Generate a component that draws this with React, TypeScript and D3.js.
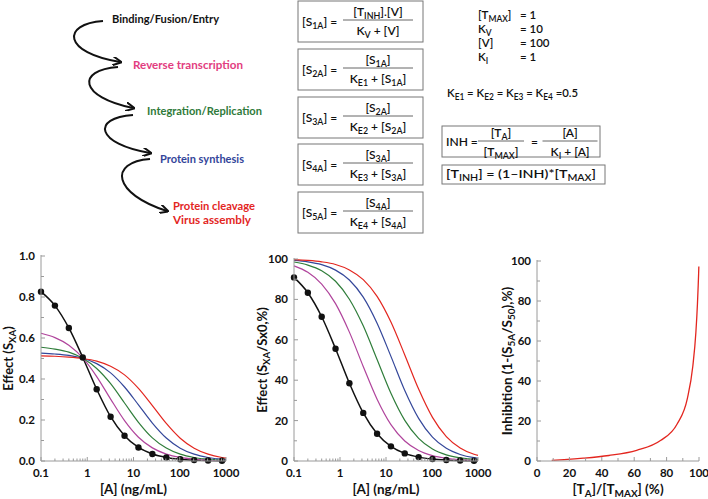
import React from "react";
import * as d3 from "d3";

// ---------- data ----------
const CONC = [0.1, 0.2, 0.4, 0.8, 1.6, 3.2, 6.4, 12.8, 25.6, 51.2, 102.4, 204.8, 409.6, 819.2, 1000];

const S1A = [0.826, 0.758, 0.649, 0.505, 0.35, 0.216, 0.123, 0.0659, 0.0342, 0.0174, 0.0088, 0.0044, 0.0022, 0.0011, 0.0009];
const S2A = [0.623, 0.602, 0.565, 0.503, 0.412, 0.302, 0.197, 0.116, 0.064, 0.0337, 0.0173, 0.0088, 0.0044, 0.0022, 0.0018];
const S3A = [0.555, 0.546, 0.531, 0.501, 0.451, 0.377, 0.283, 0.189, 0.113, 0.0631, 0.0334, 0.0172, 0.0087, 0.0044, 0.0036];
const S4A = [0.526, 0.522, 0.515, 0.501, 0.475, 0.43, 0.361, 0.274, 0.185, 0.112, 0.0626, 0.0333, 0.0172, 0.0087, 0.0072];
const S5A = [0.513, 0.511, 0.507, 0.5, 0.487, 0.462, 0.42, 0.354, 0.27, 0.183, 0.111, 0.0624, 0.0332, 0.0172, 0.0141];

const P1 = [90.9, 83.3, 71.4, 55.6, 38.5, 23.8, 13.5, 7.25, 3.76, 1.92, 0.97, 0.49, 0.24, 0.12, 0.1];
const P2 = [96.6, 93.4, 87.6, 77.9, 63.8, 46.8, 30.6, 18.0, 9.92, 5.22, 2.68, 1.36, 0.68, 0.34, 0.28];
const P3 = [98.5, 97.0, 94.2, 89.0, 80.1, 66.9, 50.2, 33.5, 20.1, 11.2, 5.93, 3.06, 1.55, 0.78, 0.64];
const P4 = [99.3, 98.6, 97.2, 94.5, 89.6, 81.1, 68.2, 51.8, 34.9, 21.1, 11.8, 6.28, 3.24, 1.65, 1.35];
const P5 = [99.7, 99.3, 98.6, 97.3, 94.6, 89.8, 81.5, 68.8, 52.5, 35.6, 21.6, 12.1, 6.46, 3.34, 2.75];

const OCCUPANCY = [9.09, 16.7, 28.6, 44.4, 61.5, 76.2, 86.5, 92.8, 96.2, 98.08, 99.03, 99.51, 99.76, 99.88, 99.9];
const INHIBITION = [0.35, 0.7, 1.4, 2.75, 5.36, 10.2, 18.5, 31.2, 47.5, 64.4, 78.4, 87.9, 93.5, 96.7, 97.3];

const LOG_TICKS = [0.1, 1, 10, 100, 1000];
const LOG_TICK_LABELS = ["0.1", "1", "10", "100", "1000"];
const FRAC_TICKS = [0, 0.2, 0.4, 0.6, 0.8, 1.0];
const PCT_TICKS = [0, 20, 40, 60, 80, 100];

const STEPS = ["Binding/Fusion/Entry", "Reverse transcription", "Integration/Replication", "Protein synthesis", "Protein cleavage"];
const STEP_EXTRA = "Virus assembly";

const COLORS = ["#111111", "#b0449c", "#2f7d3a", "#34479a", "#e3261f"];
const STEP_COLORS = ["#111111", "#e23d80", "#2f7a3a", "#33459a", "#e3261f"];

const FONT = "Lato, 'Open Sans', sans-serif";
const AXIS_COLOR = "#9a9a9a";

type Part = string | { sub: string };

function Rich({ parts, x, y, size, anchor = "start", weight = 400, fill = "#111", transform, textLength, subRatio = 0.74 }: any) {
  const out: any[] = [];
  const sh = size * 0.22;
  let shifted = false;
  parts.forEach((p: Part, i: number) => {
    if (typeof p === "string") {
      out.push(
        <tspan key={i} dy={shifted ? -sh : 0}>
          {p}
        </tspan>
      );
      shifted = false;
    } else {
      out.push(
        <tspan key={i} dy={shifted ? 0 : sh} fontSize={size * subRatio}>
          {p.sub}
        </tspan>
      );
      shifted = true;
    }
  });
  const extra: any = {};
  if (textLength) {
    extra.textLength = textLength;
    extra.lengthAdjust = "spacingAndGlyphs";
  }
  return (
    <text
      x={x}
      y={y}
      fontSize={size}
      fontFamily={FONT}
      fontWeight={weight}
      textAnchor={anchor}
      fill={fill}
      transform={transform}
      {...extra}
    >
      {out}
    </text>
  );
}

function Fraction({ cx, y, w, num, den, size = 12 }: any) {
  return (
    <g>
      <line x1={cx - w / 2} x2={cx + w / 2} y1={y} y2={y} stroke="#555" strokeWidth={0.9} />
      <Rich parts={num} x={cx} y={y - 4} size={size} anchor="middle" weight={600} />
      <Rich parts={den} x={cx} y={y + 15} size={size} anchor="middle" weight={600} />
    </g>
  );
}

function EqBox({ top, label, num, den }: any) {
  const x0 = 298;
  const x1 = 423;
  const h = 41;
  return (
    <g>
      <rect x={x0} y={top} width={x1 - x0} height={h} fill="white" stroke="#777" strokeWidth={1} />
      <Rich parts={label} x={302} y={top + 25} size={12} weight={600} />
      <Fraction cx={378} y={top + 19} w={70} num={num} den={den} />
    </g>
  );
}

function Arrow({ s, l, e }: any) {
  const d = `M${s[0]},${s[1]} C${s[0] - 42},${s[1] + 3} ${l[0] - 14},${l[1] + 16} ${e[0]},${e[1]}`;
  return <path d={d} fill="none" stroke="#111" strokeWidth={2} markerEnd="url(#arrowhead)" />;
}

function LogChart({ x0, x1, yTop, yBot, domainY, yTicks, yTickLabels, series, ylabel, ylabelX }: any) {
  const x = d3.scaleLog().domain([0.1, 1000]).range([x0, x1]);
  const y = d3.scaleLinear().domain(domainY).range([yBot, yTop]);
  const line = d3
    .line<number>()
    .x((_, i) => x(CONC[i]))
    .y((v) => y(v))
    .curve(d3.curveMonotoneX);
  const minor: number[] = [];
  [0.1, 1, 10, 100].forEach((dec) => {
    for (let k = 2; k <= 9; k++) minor.push(dec * k);
  });
  const yMinor: number[] = [];
  for (let i = 0; i < yTicks.length - 1; i++) yMinor.push((yTicks[i] + yTicks[i + 1]) / 2);
  return (
    <g>
      {series.map((vals: number[], si: number) => (
        <path key={si} d={line(vals) || ""} fill="none" stroke={COLORS[si]} strokeWidth={si === 0 ? 1.5 : 1.2} />
      ))}
      {series[0].slice(0, 14).map((v: number, i: number) => (
        <circle key={i} cx={x(CONC[i])} cy={y(v)} r={3.2} fill="#111" />
      ))}
      <line x1={x0} x2={x0} y1={yTop - 1} y2={yBot} stroke={AXIS_COLOR} strokeWidth={1} />
      <line x1={x0} x2={x1} y1={yBot} y2={yBot} stroke={AXIS_COLOR} strokeWidth={1} />
      {yTicks.map((t: number, i: number) => (
        <g key={i}>
          <line x1={x0} x2={x0 + 4} y1={y(t)} y2={y(t)} stroke={AXIS_COLOR} />
          <text x={x0 - 6} y={y(t) + 4} textAnchor="end" fontSize={11.5} fontWeight={700} fontFamily={FONT} fill="#111">
            {yTickLabels[i]}
          </text>
        </g>
      ))}
      {yMinor.map((t, i) => (
        <line key={i} x1={x0} x2={x0 + 3} y1={y(t)} y2={y(t)} stroke={AXIS_COLOR} />
      ))}
      {LOG_TICKS.map((t, i) => (
        <g key={i}>
          <line x1={x(t)} x2={x(t)} y1={yBot} y2={yBot - 4} stroke={AXIS_COLOR} />
          <text x={x(t)} y={yBot + 16} textAnchor="middle" fontSize={11.5} fontWeight={700} fontFamily={FONT} fill="#111">
            {LOG_TICK_LABELS[i]}
          </text>
        </g>
      ))}
      {minor.map((t, i) => (
        <line key={i} x1={x(t)} x2={x(t)} y1={yBot} y2={yBot - 2.5} stroke={AXIS_COLOR} />
      ))}
      <text x={(x0 + x1) / 2} y={yBot + 33} textAnchor="middle" fontSize={13.5} fontWeight={700} fontFamily={FONT} fill="#111">
        [A] (ng/mL)
      </text>
      <Rich
        parts={ylabel}
        x={0}
        y={0}
        size={13}
        weight={700}
        anchor="middle"
        transform={`translate(${ylabelX},${(yTop + yBot) / 2}) rotate(-90)`}
      />
    </g>
  );
}

function InhibChart() {
  const x0 = 537, x1 = 699, yTop = 261, yBot = 461;
  const x = d3.scaleLinear().domain([0, 100]).range([x0, x1]);
  const y = d3.scaleLinear().domain([0, 100]).range([yBot, yTop]);
  const line = d3
    .line<number>()
    .x((v) => x(v))
    .y((_, i) => y(INHIBITION[i]))
    .curve(d3.curveMonotoneX);
  const minors = [10, 30, 50, 70, 90];
  return (
    <g>
      <path d={line(OCCUPANCY) || ""} fill="none" stroke={COLORS[4]} strokeWidth={1.3} />
      <line x1={x0} x2={x0} y1={yTop - 1} y2={yBot} stroke={AXIS_COLOR} />
      <line x1={x0} x2={x1} y1={yBot} y2={yBot} stroke={AXIS_COLOR} />
      {PCT_TICKS.map((t, i) => (
        <g key={i}>
          <line x1={x0} x2={x0 + 4} y1={y(t)} y2={y(t)} stroke={AXIS_COLOR} />
          <text x={x0 - 6} y={y(t) + 4} textAnchor="end" fontSize={11.5} fontWeight={700} fontFamily={FONT} fill="#111">
            {t}
          </text>
          <line x1={x(t)} x2={x(t)} y1={yBot} y2={yBot - 4} stroke={AXIS_COLOR} />
          <text x={x(t)} y={yBot + 16} textAnchor="middle" fontSize={11.5} fontWeight={700} fontFamily={FONT} fill="#111">
            {t}
          </text>
        </g>
      ))}
      {minors.map((t, i) => (
        <g key={i}>
          <line x1={x0} x2={x0 + 3} y1={y(t)} y2={y(t)} stroke={AXIS_COLOR} />
          <line x1={x(t)} x2={x(t)} y1={yBot} y2={yBot - 3} stroke={AXIS_COLOR} />
        </g>
      ))}
      <Rich
        parts={["[T", { sub: "A" }, "]/[T", { sub: "MAX" }, "] (%)"]}
        x={(x0 + x1) / 2}
        y={yBot + 33}
        size={13.5}
        weight={700}
        anchor="middle"
      />
      <Rich
        parts={["Inhibition (1-(S", { sub: "5A" }, "/S", { sub: "50" }, "),%)"]}
        x={0}
        y={0}
        size={13.5}
        weight={700}
        anchor="middle"
        transform={`translate(${512},${(yTop + yBot) / 2}) rotate(-90)`}
      />
    </g>
  );
}

export default function App() {
  const stepPos = [
    [112, 23],
    [133, 69],
    [147, 115],
    [160, 163],
    [173, 210],
  ];
  const stepLen = [107, 110, 115, 84, 82];
  return (
    <svg width={708} height={499} style={{ position: "absolute", left: 0, top: 0, background: "white" }}>
      <defs>
        <marker id="arrowhead" viewBox="0 0 10 10" refX="8" refY="5" markerWidth="4.5" markerHeight="4.5" orient="auto">
          <path d="M0,0 L10,5 L0,10" fill="none" stroke="#111" strokeWidth={2.2} />
        </marker>
      </defs>
      <rect x={0} y={0} width={708} height={499} fill="white" />

      {/* pathway */}
      <Arrow s={[103, 21]} l={[77, 37]} e={[120, 62]} />
      <Arrow s={[118, 67]} l={[93, 81]} e={[133, 108]} />
      <Arrow s={[133, 115]} l={[110, 128]} e={[150, 153]} />
      <Arrow s={[150, 159]} l={[127, 178]} e={[167, 211]} />
      {STEPS.map((s, i) => (
        <text
          key={i}
          x={stepPos[i][0]}
          y={stepPos[i][1]}
          fontSize={10.5}
          fontWeight={700}
          fontFamily={FONT}
          fill={STEP_COLORS[i]}
          textLength={stepLen[i]}
          lengthAdjust="spacingAndGlyphs"
        >
          {s}
        </text>
      ))}
      <text x={173} y={224} fontSize={10.5} fontWeight={700} fontFamily={FONT} fill={STEP_COLORS[4]} textLength={78} lengthAdjust="spacingAndGlyphs">
        {STEP_EXTRA}
      </text>

      {/* equations */}
      <EqBox top={1} label={["[S", { sub: "1A" }, "] ="]} num={["[T", { sub: "INH" }, "].[V]"]} den={["K", { sub: "V" }, " + [V]"]} />
      <EqBox top={49} label={["[S", { sub: "2A" }, "] ="]} num={["[S", { sub: "1A" }, "]"]} den={["K", { sub: "E1" }, " + [S", { sub: "1A" }, "]"]} />
      <EqBox top={97} label={["[S", { sub: "3A" }, "] ="]} num={["[S", { sub: "2A" }, "]"]} den={["K", { sub: "E2" }, " + [S", { sub: "2A" }, "]"]} />
      <EqBox top={144} label={["[S", { sub: "4A" }, "] ="]} num={["[S", { sub: "3A" }, "]"]} den={["K", { sub: "E3" }, " + [S", { sub: "3A" }, "]"]} />
      <EqBox top={192} label={["[S", { sub: "5A" }, "] ="]} num={["[S", { sub: "4A" }, "]"]} den={["K", { sub: "E4" }, " + [S", { sub: "4A" }, "]"]} />

      {/* parameters */}
      <Rich parts={["[T", { sub: "MAX" }, "]"]} x={478} y={19} size={11.5} weight={600} />
      <Rich parts={["K", { sub: "V" }]} x={478} y={33} size={11.5} weight={600} />
      <Rich parts={["[V]"]} x={478} y={47} size={11.5} weight={600} />
      <Rich parts={["K", { sub: "I" }]} x={478} y={61} size={11.5} weight={600} />
      <Rich parts={["= 1"]} x={520} y={19} size={11.5} weight={600} />
      <Rich parts={["= 10"]} x={520} y={33} size={11.5} weight={600} />
      <Rich parts={["= 100"]} x={520} y={47} size={11.5} weight={600} />
      <Rich parts={["= 1"]} x={520} y={61} size={11.5} weight={600} />
      <Rich
        parts={["K", { sub: "E1" }, " = K", { sub: "E2" }, " = K", { sub: "E3" }, " = K", { sub: "E4" }, " =0.5"]}
        x={447}
        y={97}
        size={11.5}
        weight={600}
        textLength={131}
      />

      <rect x={442} y={126} width={158} height={31} fill="white" stroke="#777" />
      <Rich parts={["INH ="]} x={446} y={146} size={12} weight={600} />
      <Fraction cx={501} y={141} w={46} num={["[T", { sub: "A" }, "]"]} den={["[T", { sub: "MAX" }, "]"]} />
      <Rich parts={["="]} x={531} y={146} size={12} weight={600} />
      <Fraction cx={570} y={141} w={55} num={["[A]"]} den={["K", { sub: "I" }, " + [A]"]} />

      <rect x={442} y={165} width={163} height={19} fill="white" stroke="#777" />
      <Rich
        parts={["[T", { sub: "INH" }, "] = (1–INH)*[T", { sub: "MAX" }, "]"]}
        x={446}
        y={178}
        size={12}
        weight={600}
        textLength={150}
      />

      {/* charts */}
      <LogChart
        x0={41}
        x1={226}
        yTop={256}
        yBot={461}
        domainY={[0, 1]}
        yTicks={FRAC_TICKS}
        yTickLabels={["0.0", "0.2", "0.4", "0.6", "0.8", "1.0"]}
        series={[S1A, S2A, S3A, S4A, S5A]}
        ylabel={["Effect (S", { sub: "XA" }, ")"]}
        ylabelX={13}
      />
      <LogChart
        x0={294}
        x1={478}
        yTop={259}
        yBot={461}
        domainY={[0, 100]}
        yTicks={PCT_TICKS}
        yTickLabels={PCT_TICKS.map(String)}
        series={[P1, P2, P3, P4, P5]}
        ylabel={["Effect (S", { sub: "XA" }, "/Sx0,%)"]}
        ylabelX={267}
      />
      <InhibChart />
    </svg>
  );
}
